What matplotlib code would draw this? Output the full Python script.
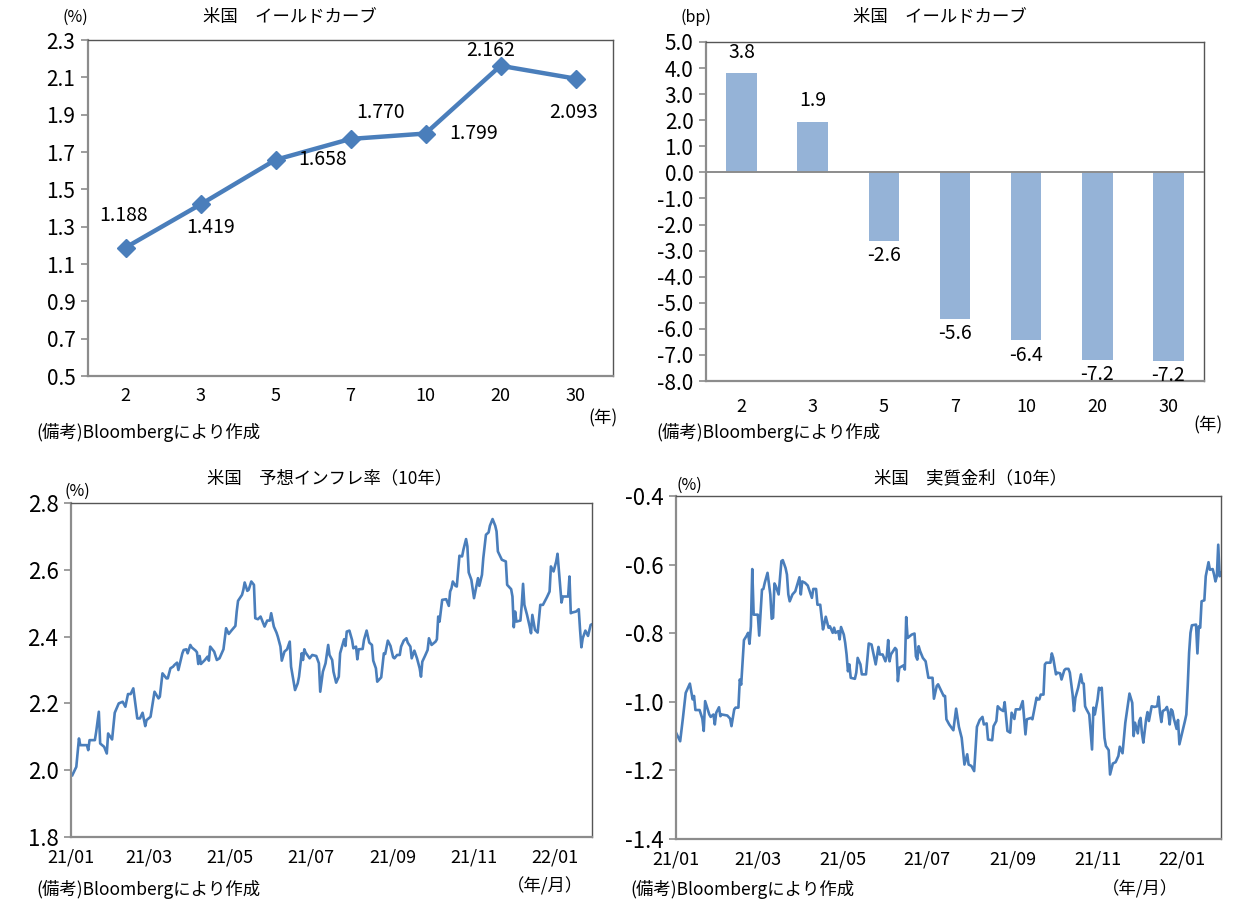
import pandas as pd
import matplotlib
matplotlib.use("Agg")
import matplotlib.pyplot as plt
import matplotlib.dates as mdates
from matplotlib.ticker import FormatStrFormatter, MultipleLocator

plt.rcParams['font.family'] = ['Noto Sans CJK JP', 'DejaVu Sans']

# --- data ---
tenors = ["2", "3", "5", "7", "10", "20", "30"]
yields = [1.188, 1.419, 1.658, 1.770, 1.799, 2.162, 2.093]
yield_change_bp = [3.8, 1.94, -2.62, -5.62, -6.44, -7.18, -7.22]

# 10y breakeven inflation, days since 2021-01-01
bei_days = [1, 4, 6, 7, 12, 13, 14, 18, 19, 21, 22, 25, 27, 28, 31, 33, 36, 39, 41, 43,
            45, 47, 50, 52, 54, 56, 57, 60, 62, 63, 66, 67, 69, 72, 73, 75, 77, 78, 80, 81,
            84, 85, 87, 88, 90, 91, 94, 95, 96, 97, 98, 101, 102, 103, 104, 105, 108, 110, 112, 115,
            117, 119, 121, 124, 125, 126, 129, 130, 131, 133, 134, 136, 138, 139, 141, 143, 146, 148, 150, 151,
            153, 155, 156, 158, 159, 161, 163, 165, 166, 169, 171, 172, 174, 175, 176, 177, 180, 182, 185, 187,
            188, 190, 192, 194, 195, 197, 198, 200, 202,
            203, 206, 207, 208, 210, 212, 213, 215, 216, 217, 220, 221, 223, 225, 227, 228, 230, 231, 234, 236,
            237, 239, 241, 243, 244, 246, 248, 249, 251, 253, 254, 256, 257, 259, 261, 263, 264, 265, 267, 269,
            270, 272, 275, 276, 277, 278, 280, 283, 285, 286, 287, 288, 290, 291, 293, 295, 296, 298, 299, 300,
            302, 304, 306, 307, 308, 310, 311, 313, 315, 316, 318, 320, 321, 322, 325, 328, 329, 332, 333, 334,
            335, 336, 339, 340, 341, 342, 344, 346, 347, 348, 350, 352, 354, 356, 359, 361, 362, 364, 366, 367,
            369, 370, 371, 375, 376, 377, 378, 381, 383, 384, 385, 386, 388, 390, 392, 393]
bei_vals = [1.985, 2.010, 2.095, 2.075, 2.075, 2.060, 2.090, 2.090, 2.115, 2.175, 2.080, 2.070, 2.050, 2.110, 2.092, 2.172, 2.200, 2.205, 2.190, 2.228,
            2.228, 2.245, 2.155, 2.155, 2.172, 2.132, 2.150, 2.160, 2.210, 2.235, 2.215, 2.220, 2.290, 2.275, 2.275, 2.305, 2.310, 2.315, 2.322, 2.300,
            2.350, 2.360, 2.362, 2.350, 2.375, 2.368, 2.358, 2.353, 2.318, 2.342, 2.318, 2.330, 2.335, 2.340, 2.328, 2.370, 2.355, 2.330, 2.335, 2.362,
            2.425, 2.408, 2.418, 2.432, 2.475, 2.507, 2.525, 2.540, 2.562, 2.537, 2.540, 2.565, 2.555, 2.455, 2.452, 2.460, 2.430, 2.448, 2.448, 2.470,
            2.430, 2.412, 2.400, 2.370, 2.328, 2.355, 2.362, 2.385, 2.310, 2.240, 2.260, 2.280, 2.350, 2.330, 2.362, 2.352, 2.335, 2.345, 2.342, 2.320,
            2.235, 2.295, 2.320, 2.375, 2.345, 2.330, 2.295, 2.262, 2.280,
            2.350, 2.392, 2.372, 2.415, 2.418, 2.390, 2.365, 2.370, 2.332, 2.362, 2.363, 2.390, 2.418, 2.382, 2.375, 2.328, 2.305, 2.265, 2.278, 2.350,
            2.348, 2.388, 2.372, 2.338, 2.335, 2.345, 2.345, 2.370, 2.388, 2.395, 2.382, 2.370, 2.335, 2.358, 2.335, 2.305, 2.280, 2.325, 2.342, 2.360,
            2.395, 2.375, 2.385, 2.392, 2.460, 2.445, 2.510, 2.512, 2.492, 2.535, 2.545, 2.565, 2.552, 2.550, 2.642, 2.640, 2.660, 2.692, 2.670, 2.592,
            2.570, 2.515, 2.555, 2.575, 2.552, 2.585, 2.635, 2.705, 2.712, 2.732, 2.752, 2.732, 2.715, 2.655, 2.630, 2.625, 2.555, 2.542, 2.520, 2.428,
            2.475, 2.445, 2.448, 2.495, 2.558, 2.495, 2.465, 2.430, 2.410, 2.465, 2.420, 2.412, 2.495, 2.495, 2.518, 2.535, 2.610, 2.595, 2.625, 2.648,
            2.550, 2.502, 2.520, 2.520, 2.580, 2.470, 2.472, 2.475, 2.482, 2.420, 2.368, 2.395, 2.418, 2.402, 2.435, 2.437]

# 10y real yield, days since 2021-01-01
real_days = [0, 3, 5, 7, 10, 12, 13, 14, 17, 19, 20, 21, 24, 25, 27, 28, 29, 31, 32, 33,
             37, 39, 40, 42, 43, 45, 46, 47, 49, 51, 52, 53, 54, 55, 56, 59, 60, 62, 63, 64,
             65, 66, 68, 69, 70, 71, 72, 74, 76, 77, 79, 80, 81, 82, 84, 86, 89, 90, 91, 93,
             95, 96, 98, 99, 101, 102, 104, 106, 107, 108, 110, 111, 113, 114, 115, 117, 118, 119, 121, 122,
             123, 124, 125, 126, 129, 130, 131, 133, 134, 137, 139, 141, 142, 144, 146, 147, 149, 151, 152, 153,
             154, 155, 157, 158, 159, 160, 161, 164, 165, 166, 167, 170, 172, 173, 174, 175, 176, 178, 180, 182,
             185, 186, 188, 189, 192, 193, 194, 195, 197,
             200, 202, 204, 206, 208, 210, 211, 213, 215, 217, 219, 221, 222, 224, 225, 228, 229, 231, 232, 234,
             236, 237, 239, 241, 242, 244, 245, 248, 250, 252, 253, 256, 257, 260, 261, 262, 263, 265, 266, 267,
             270, 271, 272, 274, 275, 277, 278, 280, 281, 283, 284, 286, 287, 288, 289, 290, 292, 293, 294, 295,
             296, 298, 300, 301, 302, 304, 305, 306, 307, 309, 310, 312, 313, 315, 317, 319, 320, 322, 324, 327,
             329, 330, 331, 333, 334, 335, 336, 337, 339, 340, 341, 343, 345, 347, 348, 349, 350, 351, 353, 354,
             355, 356, 357, 358, 359, 361, 362, 363, 365, 367, 368, 369, 370, 371, 372, 375, 376, 377, 378, 379,
             381, 382, 384, 385, 387, 388, 389, 390, 391, 392, 393]
real_vals = [-1.090, -1.115, -1.047, -0.974, -0.947, -0.993, -0.983, -1.024, -1.024, -1.049, -1.085, -0.998, -1.037, -1.044, -1.037, -1.066, -1.032, -1.016, -1.042, -1.037,
             -1.040, -1.049, -1.071, -1.022, -1.017, -1.017, -0.935, -0.950, -0.820, -0.807, -0.799, -0.831, -0.780, -0.613, -0.746, -0.746, -0.807, -0.673, -0.671, -0.653,
             -0.639, -0.624, -0.687, -0.758, -0.755, -0.655, -0.663, -0.687, -0.590, -0.587, -0.610, -0.629, -0.687, -0.707, -0.687, -0.678, -0.637, -0.687, -0.649, -0.653,
             -0.661, -0.673, -0.697, -0.671, -0.671, -0.717, -0.717, -0.789, -0.772, -0.752, -0.784, -0.780, -0.799, -0.784, -0.799, -0.794, -0.818, -0.782, -0.804, -0.828,
             -0.862, -0.911, -0.891, -0.930, -0.933, -0.915, -0.872, -0.891, -0.920, -0.920, -0.830, -0.833, -0.852, -0.891, -0.840, -0.862, -0.862, -0.882, -0.867, -0.820,
             -0.882, -0.862, -0.849, -0.843, -0.848, -0.940, -0.901, -0.894, -0.906, -0.753, -0.814, -0.804, -0.801, -0.867, -0.877, -0.838, -0.852, -0.872, -0.882, -0.930,
             -0.930, -0.991, -0.954, -0.949, -0.974, -0.983, -0.983, -1.051, -1.066,
             -1.083, -1.020, -1.073, -1.105, -1.183, -1.153, -1.183, -1.187, -1.202, -1.073, -1.053, -1.044, -1.066, -1.063, -1.110, -1.112, -1.071, -1.056, -1.013, -1.022,
             -1.027, -1.001, -1.085, -1.090, -1.032, -1.050, -1.022, -1.022, -0.998, -1.095, -1.051, -1.047, -1.051, -0.988, -0.993, -0.993, -0.979, -0.979, -0.891, -0.886,
             -0.886, -0.859, -0.872, -0.920, -0.915, -0.917, -0.935, -0.908, -0.904, -0.904, -0.915, -0.979, -1.027, -0.988, -0.974, -0.959, -0.920, -0.945, -0.947, -1.013,
             -1.022, -1.037, -1.139, -1.017, -1.037, -0.993, -0.959, -0.964, -0.959, -1.105, -1.129, -1.141, -1.212, -1.180, -1.176, -1.158, -1.131, -1.150, -1.061, -0.976,
             -1.003, -1.100, -1.061, -1.092, -1.056, -1.047, -1.092, -1.119, -1.051, -1.030, -1.056, -1.013, -1.015, -1.013, -0.985, -1.032, -1.059, -1.027, -1.022, -1.015,
             -1.032, -1.066, -1.022, -1.027, -1.049, -1.079, -1.053, -1.124, -1.090, -1.056, -1.037, -0.954, -0.857, -0.799, -0.777, -0.775, -0.859, -0.780, -0.784, -0.707,
             -0.704, -0.634, -0.593, -0.615, -0.613, -0.629, -0.649, -0.634, -0.542, -0.634, -0.624]

base = pd.Timestamp("2021-01-01")
bei_dates = base + pd.to_timedelta(bei_days, unit="D")
real_dates = base + pd.to_timedelta(real_days, unit="D")
x_end = base + pd.Timedelta(days=393)

LINE = "#4a7ebb"
BAR = "#95b3d7"
W, H = 1242, 916

fig = plt.figure(figsize=(W / 100, H / 100), dpi=100)


def box(x0, y0, x1, y1):
    # pixel box -> figure fraction
    return [x0 / W, 1 - y1 / H, (x1 - x0) / W, (y1 - y0) / H]


def style(ax):
    for s in ("left", "bottom"):
        ax.spines[s].set_color("#8c8c8c")
        ax.spines[s].set_linewidth(1.6)
    for s in ("top", "right"):
        ax.spines[s].set_color("#555555")
        ax.spines[s].set_linewidth(1.0)
    ax.tick_params(axis="y", direction="out", length=5, color="#8c8c8c", width=1.2, labelsize=15, pad=4)
    ax.tick_params(axis="x", length=0, labelsize=13, pad=8)


def ftext(x, y, s, size=12.5, ha="left", va="center"):
    fig.text(x / W, 1 - y / H, s, fontsize=size, ha=ha, va=va)


# ---- top left: yield curve ----
ax1 = fig.add_axes(box(88, 40, 613, 376))
pos = list(range(len(tenors)))
ax1.plot(pos, yields, color=LINE, lw=3.2, marker="D", ms=9, zorder=3)
ax1.set_xlim(-0.5, len(tenors) - 0.5)
ax1.set_ylim(0.5, 2.3)
ax1.set_yticks([round(0.5 + 0.2 * i, 1) for i in range(10)])
ax1.yaxis.set_major_formatter(FormatStrFormatter("%.1f"))
ax1.set_xticks(pos)
ax1.set_xticklabels(tenors)
style(ax1)
label_off = [(-2, 32), (10, -23), (47, 0), (30, 26), (48, 0), (-10, 15), (-2, -34)]
for p, v, off in zip(pos, yields, label_off):
    ax1.annotate(f"{v:.3f}", (p, v), xytext=off, textcoords="offset pixels",
                 ha="center", va="center", fontsize=14)
ftext(290, 17, "米国　イールドカーブ", ha="center")
ftext(62, 17, "(%)", size=11.5)
ftext(603, 418, "(年)", ha="center")
ftext(36, 432, "(備考)Bloombergにより作成")

# ---- top right: change in bp ----
ax2 = fig.add_axes(box(706, 42, 1204, 381))
ax2.bar(pos, yield_change_bp, width=0.43, color=BAR, zorder=2)
ax2.axhline(0, color="#8c8c8c", lw=1.4, zorder=3)
ax2.set_xlim(-0.5, len(tenors) - 0.5)
ax2.set_ylim(-8, 5)
ax2.yaxis.set_major_locator(MultipleLocator(1))
ax2.yaxis.set_major_formatter(FormatStrFormatter("%.1f"))
ax2.set_xticks(pos)
ax2.set_xticklabels(tenors)
style(ax2)
ax2.tick_params(axis="x", pad=12)
for p, v in zip(pos, yield_change_bp):
    off = 21 if v > 0 else -15
    ax2.annotate(f"{v:.1f}", (p, v), xytext=(0, off), textcoords="offset pixels",
                 ha="center", va="center", fontsize=14)
ftext(940, 17, "米国　イールドカーブ", ha="center")
ftext(680, 17, "(bp)", size=11.5)
ftext(1208, 425, "(年)", ha="center")
ftext(656, 432, "(備考)Bloombergにより作成")


def time_axis(ax):
    ax.set_xlim(base, x_end)
    ax.xaxis.set_major_locator(mdates.MonthLocator(bymonth=[1, 3, 5, 7, 9, 11]))
    ax.xaxis.set_major_formatter(mdates.DateFormatter("%y/%m"))
    style(ax)
    ax.tick_params(axis="y", labelsize=16)


# ---- bottom left: breakeven inflation ----
ax3 = fig.add_axes(box(71, 503, 592, 837))
ax3.plot(bei_dates, bei_vals, color=LINE, lw=1.9)
ax3.set_ylim(1.8, 2.8)
ax3.yaxis.set_major_locator(MultipleLocator(0.2))
ax3.yaxis.set_major_formatter(FormatStrFormatter("%.1f"))
time_axis(ax3)
ftext(330, 478, "米国　予想インフレ率（10年）", ha="center")
ftext(64, 491, "(%)", size=11.5)
ftext(545, 886, "（年/月）", ha="center")
ftext(36, 889, "(備考)Bloombergにより作成")

# ---- bottom right: real yield ----
ax4 = fig.add_axes(box(676, 496, 1221, 839))
ax4.plot(real_dates, real_vals, color=LINE, lw=1.9)
ax4.set_ylim(-1.4, -0.4)
ax4.yaxis.set_major_locator(MultipleLocator(0.2))
ax4.yaxis.set_major_formatter(FormatStrFormatter("%.1f"))
time_axis(ax4)
ftext(970, 478, "米国　実質金利（10年）", ha="center")
ftext(676, 485, "(%)", size=11.5)
ftext(1140, 889, "（年/月）", ha="center")
ftext(630, 889, "(備考)Bloombergにより作成")

fig.savefig("out.png", dpi=100)
